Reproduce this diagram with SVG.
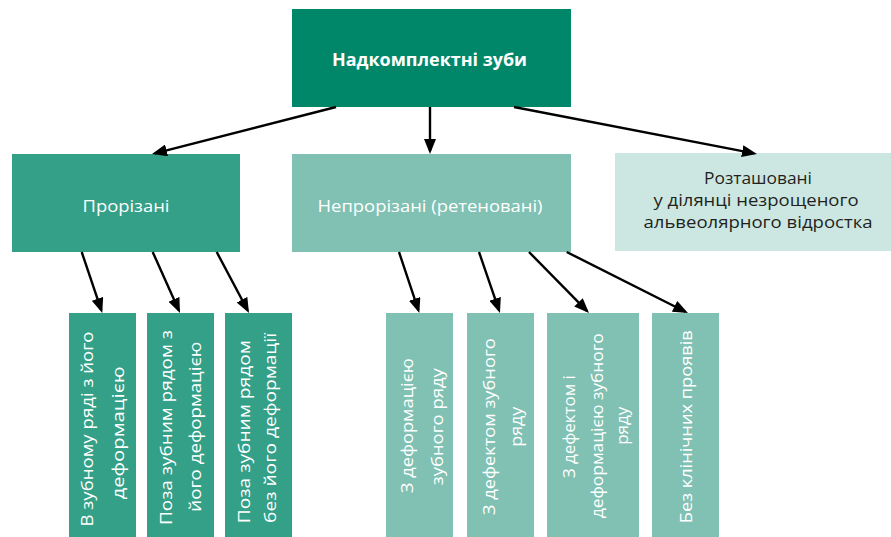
<svg xmlns="http://www.w3.org/2000/svg" width="891" height="537" viewBox="0 0 891 537">
<style>
text{font-family:"Open Sans","Noto Sans","DejaVu Sans",sans-serif;font-size:16px;text-anchor:middle;lengthAdjust:spacingAndGlyphs}
.w{fill:#ffffff}
.d{fill:#231f20}
.c0{fill:#00876a}
.c1{fill:#33a087}
.c2{fill:#80c1b3}
.c3{fill:#cce7e1}
.ar{fill:none;stroke:#000;stroke-width:2.4;marker-end:url(#ah)}
</style>
<defs>
<marker id="ah" markerUnits="userSpaceOnUse" markerWidth="16" markerHeight="12" refX="12" refY="6" orient="auto" viewBox="0 0 16 12">
<path d="M0,0 L15,6 L0,12 z" fill="#000"/>
</marker>
</defs>
<rect width="891" height="537" fill="#ffffff"/>

<g id="root">
<rect class="c0" x="292" y="9" width="279" height="98"/>
<text class="w" x="429.5" y="66" style="font-weight:bold;font-size:18px" textLength="195" lengthAdjust="spacingAndGlyphs">Надкомплектні зуби</text>
</g>

<g id="erupted">
<rect class="c1" x="12" y="154" width="228" height="98"/>
<text class="w" x="126" y="212" textLength="87" lengthAdjust="spacingAndGlyphs">Прорізані</text>
</g>

<g id="retained">
<rect class="c2" x="292" y="154" width="279" height="98"/>
<text class="w" x="430" y="212" textLength="225" lengthAdjust="spacingAndGlyphs">Непрорізані (ретеновані)</text>
</g>

<g id="alveolar">
<rect class="c3" x="615" y="153" width="276" height="98"/>
<text class="d" x="758" y="183.5" textLength="108" lengthAdjust="spacingAndGlyphs">Розташовані</text>
<text class="d" x="756" y="205.5" textLength="205" lengthAdjust="spacingAndGlyphs">у ділянці незрощеного</text>
<text class="d" x="758" y="227.5" textLength="229" lengthAdjust="spacingAndGlyphs">альвеолярного відростка</text>
</g>

<g id="e1">
<rect class="c1" x="69" y="313" width="67" height="224"/>
<text class="w" transform="translate(93.3,429) rotate(-90)" textLength="195" lengthAdjust="spacingAndGlyphs">В зубному ряді з його</text>
<text class="w" transform="translate(123.5,433) rotate(-90)" textLength="133" lengthAdjust="spacingAndGlyphs">деформацією</text>
</g>

<g id="e2">
<rect class="c1" x="147" y="313" width="67" height="224"/>
<text class="w" transform="translate(171.7,427.5) rotate(-90)" textLength="195" lengthAdjust="spacingAndGlyphs">Поза зубним рядом з</text>
<text class="w" transform="translate(200.5,426.7) rotate(-90)" textLength="170" lengthAdjust="spacingAndGlyphs">його деформацією</text>
</g>

<g id="e3">
<rect class="c1" x="225" y="313" width="67" height="224"/>
<text class="w" transform="translate(250,431.7) rotate(-90)" textLength="183" lengthAdjust="spacingAndGlyphs">Поза зубним рядом</text>
<text class="w" transform="translate(276,428) rotate(-90)" textLength="190" lengthAdjust="spacingAndGlyphs">без його деформації</text>
</g>

<g id="r1">
<rect class="c2" x="386" y="313" width="67" height="224"/>
<text class="w" transform="translate(413.3,425.7) rotate(-90)" textLength="135" lengthAdjust="spacingAndGlyphs">З деформацією</text>
<text class="w" transform="translate(443.3,426.7) rotate(-90)" textLength="117" lengthAdjust="spacingAndGlyphs">зубного ряду</text>
</g>

<g id="r2">
<rect class="c2" x="467" y="313" width="67" height="224"/>
<text class="w" transform="translate(495,426.7) rotate(-90)" textLength="177" lengthAdjust="spacingAndGlyphs">З дефектом зубного</text>
<text class="w" transform="translate(521.7,426.7) rotate(-90)" textLength="40" lengthAdjust="spacingAndGlyphs">ряду</text>
</g>

<g id="r3">
<rect class="c2" x="547" y="313" width="92" height="224"/>
<text class="w" transform="translate(575,426.7) rotate(-90)" textLength="103" lengthAdjust="spacingAndGlyphs">З дефектом і</text>
<text class="w" transform="translate(602.5,425.8) rotate(-90)" textLength="185" lengthAdjust="spacingAndGlyphs">деформацією зубного</text>
<text class="w" transform="translate(628,425.8) rotate(-90)" textLength="38" lengthAdjust="spacingAndGlyphs">ряду</text>
</g>

<g id="r4">
<rect class="c2" x="652" y="313" width="67" height="224"/>
<text class="w" transform="translate(691.7,426.7) rotate(-90)" textLength="193" lengthAdjust="spacingAndGlyphs">Без клінічних проявів</text>
</g>

<g id="connectors">
<path class="ar" d="M336,107 L154.9,153.3"/>
<path class="ar" d="M430,107 L430,151"/>
<path class="ar" d="M514,107 L754,153.4"/>
<path class="ar" d="M81.7,252 L101.3,310.2"/>
<path class="ar" d="M152.7,252 L178.8,310.3"/>
<path class="ar" d="M216.7,252 L247.6,310.3"/>
<path class="ar" d="M399,252 L418.4,310.2"/>
<path class="ar" d="M479,252 L499,310.2"/>
<path class="ar" d="M529,252 L586.9,310.9"/>
<path class="ar" d="M566.7,252 L685.3,311.7"/>
</g>
</svg>
